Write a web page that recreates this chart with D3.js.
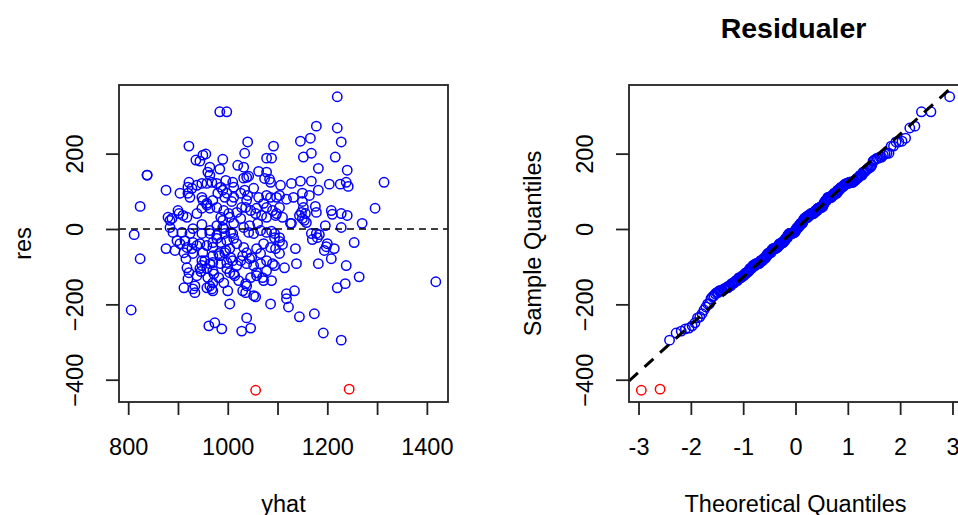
<!DOCTYPE html>
<html lang="en">
<head>
<meta charset="UTF-8">
<title>Residualer</title>
<script src="https://cdn.jsdelivr.net/npm/d3@7"></script>
<style>
    body { margin: 0; background: #fff; }
    svg { display: block; font-family: "Liberation Sans", Arial, sans-serif; }
    text { fill: #000; }
    .box { fill: none; stroke: #222; stroke-width: 1.8px; }
    .axis line { stroke: #222; stroke-width: 1.8px; }
    .axis text { font-size: 23.5px; }
    circle { fill: none; stroke-width: 1.5px; }
</style>
</head>
<body>

<svg width="958" height="515"></svg>

<script>
    // fitted values and residuals
    let yhat = [
        984,998,922,1040,1092,956,936,944,990,1034,1078,1088,1020,1032,964,1062,1220,1178,1220,1146,1166,1228,1152,1168,1216,1182,1240,984,960,1078,950,
        838,838,964,1038,1074,1084,922,1010,1106,1314,1128,1146,1168,1204,1226,1238,1242,876,1182,1032,1042,996,986,978,1012,1052,1086,920,928,938,948,958,968,
        904,924,948,980,990,994,1008,1034,1040,1078,1098,824,958,948,964,1058,1028,1104,1118,1132,1150,1164,1150,1152,1176,1296,998,1012,1026,1062,1072,1078,1038,1036,978,992,1086,1090,1104,950,958,970,920,
        1068,1078,1018,902,918,938,990,1004,888,884,1098,1110,948,978,990,1044,1060,1148,1144,1178,1208,1210,1228,1240,1154,1158,1128,1196,1228,1270,1046,1056,986,1002,1026,1012,992,1032,1096,1156,1150,1126,900,910,880,930,884,
        812,908,924,964,978,994,1010,1078,1094,1104,1168,1178,1184,1170,1200,1254,1180,1110,1198,1214,1006,1042,1052,1066,978,986,998,1012,1018,970,1032,1072,1088,1094,1104,890,948,964,898,914,930,944,958,970,904,918,938,1086,1136,
        1194,1208,1138,1182,1238,824,876,916,912,930,982,996,1006,1038,1048,1058,1066,1026,1038,1052,1066,1078,986,1096,1104,950,970,948,964,894,928,954,970,984,994,1004,998,1010,1018,1030,1044,1090,1114,1094,
        922,946,1264,1418,1236,998,972,982,992,1012,1022,1036,1046,1058,1072,948,958,970,960,970,1004,1014,1058,1070,1078,1088,918,920,938,944,964,
        1220,1118,1134,1118,1122,1144,1174,1192,1228,806,912,934,934,958,968,1000,1004,1030,1038,1056,1086,962,974,988,1038,1046,1028,1036,1052,930,970
    ]
    let res = [
        311,311,220,231,220,199,183,180,185,201,188,188,169,164,164,153,351,273,268,233,241,231,191,201,191,161,156,159,151,151,196,
        143,143,143,137,134,132,124,124,116,124,121,127,127,119,119,124,113,103,103,135,140,129,111,121,111,108,124,111,108,116,121,121,124,
        95,84,84,95,103,84,73,103,89,89,84,60,63,55,55,55,57,89,79,84,95,89,73,57,60,55,95,84,95,84,68,57,76,57,57,49,84,49,57,76,68,76,95,
        36,31,44,41,31,41,23,31,28,4,41,31,12,9,4,9,15,44,36,44,49,39,41,36,23,17,15,9,4,15,49,41,31,41,28,15,1,4,36,41,28,15,49,36,31,1,23,
        -15,-9,-12,-12,-17,-12,-12,-9,-12,-23,-12,-12,-15,-28,-39,-36,-23,-41,-47,-52,-9,-9,-12,-4,-25,-36,-31,-25,-39,-49,-49,-39,-6,-23,-33,-9,-12,-4,-31,-31,-36,-39,-44,-36,-39,-49,-44,-49,-52,
        -57,-79,-92,-92,-97,-79,-52,-79,-63,-65,-65,-57,-76,-63,-76,-52,-65,-84,-92,-97,-92,-84,-92,-52,-65,-63,-71,-84,-92,-57,-52,-84,-89,-71,-63,-52,-89,-84,-97,-71,-79,-92,-103,-97,
        -116,-113,-127,-140,-145,-105,-119,-129,-143,-119,-137,-145,-129,-124,-137,-97,-105,-111,-129,-143,-116,-124,-116,-129,-111,-137,-103,-132,-124,-105,-151,
        -156,-172,-164,-185,-207,-233,-225,-276,-295,-215,-156,-151,-169,-156,-159,-164,-199,-164,-151,-180,-199,-257,-249,-265,-236,-263,-271,-169,-177,-159,-164
    ]
    // the two outliers drawn in red
    let redYhat = [1056, 1244]
    let redRes = [-428, -425]

    let xTicksLeft = [800, 900, 1000, 1100, 1200, 1300, 1400]
    let xLabelsLeft = [800, 1000, 1200, 1400]
    let yTicks = [-400, -200, 0, 200]
    let xTicksRight = [-3, -2, -1, 0, 1, 2, 3]

    let svg = d3.select('svg')
    let plotTop = 85, plotBottom = 402
    let leftBox = [119, 448]
    let rightBox = [629, 962]

    // R style axis range: data range plus 4% each side
    function ext(e) {
        let r = e[1] - e[0]
        return [e[0] - 0.04 * r, e[1] + 0.04 * r]
    }

    // inverse normal cdf (Acklam)
    function qnorm(p) {
        let a = [-3.969683028665376e+01, 2.209460984245205e+02, -2.759285104469687e+02, 1.383577518672690e+02, -3.066479806614716e+01, 2.506628277459239e+00]
        let b = [-5.447609879822406e+01, 1.615858368580409e+02, -1.556989798598866e+02, 6.680131188771972e+01, -1.328068155288572e+01]
        let c = [-7.784894002430293e-03, -3.223964580411365e-01, -2.400758277161838e+00, -2.549732539343734e+00, 4.374664141464968e+00, 2.938163982698783e+00]
        let d = [7.784695709041462e-03, 3.224671290700398e-01, 2.445134137142996e+00, 3.754408661907416e+00]
        let q, r
        if (p < 0.02425) {
            q = Math.sqrt(-2 * Math.log(p))
            return (((((c[0]*q+c[1])*q+c[2])*q+c[3])*q+c[4])*q+c[5]) / ((((d[0]*q+d[1])*q+d[2])*q+d[3])*q+1)
        }
        if (p > 1 - 0.02425) {
            q = Math.sqrt(-2 * Math.log(1 - p))
            return -(((((c[0]*q+c[1])*q+c[2])*q+c[3])*q+c[4])*q+c[5]) / ((((d[0]*q+d[1])*q+d[2])*q+d[3])*q+1)
        }
        q = p - 0.5
        r = q * q
        return (((((a[0]*r+a[1])*r+a[2])*r+a[3])*r+a[4])*r+a[5])*q / (((((b[0]*r+b[1])*r+b[2])*r+b[3])*r+b[4])*r+1)
    }

    let pts = yhat.map(function (d, i) { return {x: d, y: res[i], red: false} })
    redYhat.forEach(function (d, i) { pts.push({x: d, y: redRes[i], red: true}) })

    // qq data: sorted residuals against ppoints
    let n = pts.length
    let sorted = pts.slice().sort(function (a, b) { return a.y - b.y })
    let qq = sorted.map(function (d, i) { return {x: qnorm((i + 1 - 0.5) / n), y: d.y, red: d.red} })

    let allRes = pts.map(function (d) { return d.y })

    let xL = d3.scaleLinear().domain(ext(d3.extent(pts, function (d) { return d.x }))).range(leftBox)
    let yS = d3.scaleLinear().domain(ext(d3.extent(allRes))).range([plotBottom, plotTop])
    let xR = d3.scaleLinear().domain(ext(d3.extent(qq, function (d) { return d.x }))).range(rightBox)

    // ---------- left panel ----------
    let left = svg.append('g')

    left.selectAll('circle').data(pts).enter().append('circle')
        .attr('cx', function (d) { return xL(d.x) })
        .attr('cy', function (d) { return yS(d.y) })
        .attr('r', 4.7)
        .attr('stroke', function (d) { return d.red ? 'red' : 'blue' })

    left.append('line')
        .attr('x1', leftBox[0]).attr('x2', leftBox[1])
        .attr('y1', yS(0)).attr('y2', yS(0))
        .attr('stroke', '#000').attr('stroke-width', 1.5).attr('stroke-dasharray', '7,5')

    // ---------- right panel ----------
    let right = svg.append('g')

    svg.append('clipPath').attr('id', 'clipR').append('rect')
        .attr('x', rightBox[0]).attr('y', plotTop)
        .attr('width', rightBox[1] - rightBox[0]).attr('height', plotBottom - plotTop)

    right.selectAll('circle').data(qq).enter().append('circle')
        .attr('cx', function (d) { return xR(d.x) })
        .attr('cy', function (d) { return yS(d.y) })
        .attr('r', 4.7)
        .attr('stroke', function (d) { return d.red ? 'red' : 'blue' })

    // qqline through the quartiles
    let resSorted = allRes.slice().sort(d3.ascending)
    let q1 = d3.quantile(resSorted, 0.25)
    let q3 = d3.quantile(resSorted, 0.75)
    let slope = (q3 - q1) / (qnorm(0.75) - qnorm(0.25))
    let intercept = q1 - slope * qnorm(0.25)
    let qqline = d3.line()
        .x(function (d) { return xR(d) })
        .y(function (d) { return yS(intercept + slope * d) })

    right.append('path')
        .datum(xR.domain())
        .attr('d', qqline)
        .attr('clip-path', 'url(#clipR)')
        .attr('fill', 'none').attr('stroke', '#000')
        .attr('stroke-width', 3).attr('stroke-dasharray', '12,9')

    // ---------- boxes and axes ----------
    function drawAxes(box, xScale, xTicks, xLabels, xTitle, yTitle) {
        svg.append('rect').attr('class', 'box')
            .attr('x', box[0]).attr('y', plotTop)
            .attr('width', box[1] - box[0]).attr('height', plotBottom - plotTop)

        let xa = svg.append('g').attr('class', 'axis')
            .attr('transform', 'translate(0,' + plotBottom + ')')
            .call(d3.axisBottom(xScale).tickValues(xTicks).tickSize(13)
                .tickFormat(function (d) { return xLabels.indexOf(d) >= 0 ? d : '' }))
        xa.select('.domain').remove()
        xa.selectAll('text').attr('y', 53).attr('dy', null).attr('fill', '#000')
        xa.attr('font-family', null).attr('font-size', null)

        let ya = svg.append('g').attr('class', 'axis')
            .attr('transform', 'translate(' + box[0] + ',0)')
            .call(d3.axisLeft(yS).tickValues(yTicks).tickSize(13))
        ya.select('.domain').remove()
        ya.selectAll('text').attr('x', null).attr('dy', null)
            .attr('text-anchor', 'middle')
            .attr('transform', 'translate(-36,0) rotate(-90)')
            .attr('fill', '#000')
        ya.attr('font-family', null).attr('font-size', null)

        svg.append('text')
            .attr('x', (box[0] + box[1]) / 2).attr('y', 512)
            .attr('text-anchor', 'middle').style('font-size', '23.5px')
            .text(xTitle)

        svg.append('text')
            .attr('transform', 'translate(' + (box[0] - 88) + ',' + ((plotTop + plotBottom) / 2) + ') rotate(-90)')
            .attr('text-anchor', 'middle').style('font-size', '23.5px')
            .text(yTitle)
    }

    drawAxes(leftBox, xL, xTicksLeft, xLabelsLeft, 'yhat', 'res')
    drawAxes(rightBox, xR, xTicksRight, xTicksRight, 'Theoretical Quantiles', 'Sample Quantiles')

    svg.append('text')
        .attr('x', (rightBox[0] + rightBox[1]) / 2 - 2).attr('y', 38)
        .attr('text-anchor', 'middle')
        .style('font-size', '28.5px').style('font-weight', 'bold')
        .text('Residualer')
</script>

</body>
</html>
